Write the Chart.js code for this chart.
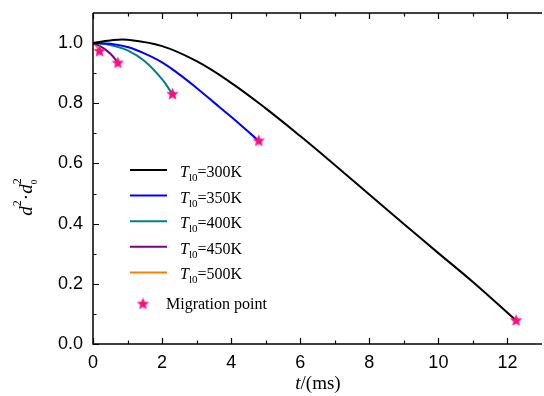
<!DOCTYPE html>
<html>
<head>
<meta charset="utf-8">
<script src="https://cdn.jsdelivr.net/npm/chart.js@4.4.1/dist/chart.umd.min.js"></script>
<style>
html,body{margin:0;padding:0;overflow:hidden;background:#fff}
#wrap{width:550px;height:396px}
</style>
</head>
<body>
<div id="wrap"><canvas id="chart" width="550" height="396"></canvas></div>
<script>
// ---- data ----
const t300 = [0, 0.5, 1, 2, 3, 4, 5, 6, 7, 8, 9, 10, 11, 12.25];
const d300 = [1.0, 1.009, 1.011, 0.99, 0.94, 0.868, 0.783, 0.691, 0.595, 0.497, 0.399, 0.302, 0.206, 0.078];
const t350 = [0, 0.5, 1, 1.5, 2, 2.5, 3, 3.5, 4, 4.5, 4.8];
const d350 = [1.0, 0.998, 0.987, 0.965, 0.936, 0.896, 0.851, 0.803, 0.755, 0.705, 0.675];
const t400 = [0, 0.5, 1, 1.5, 2, 2.3];
const d400 = [1.0, 0.994, 0.976, 0.94, 0.88, 0.83];
const t450 = [0, 0.2, 0.4, 0.6, 0.72];
const d450 = [1.0, 0.99, 0.975, 0.953, 0.934];
const t500 = [0, 0.1, 0.19];
const d500 = [1.0, 0.989, 0.973];

const tMig = [12.25, 4.8, 2.3, 0.72, 0.19];
const dMig = [0.078, 0.675, 0.83, 0.934, 0.973];

const temps = ['300', '350', '400', '450', '500'];
const lineColors = ['#000000', '#0000FF', '#008080', '#800080', '#FF8000'];
const starColor = '#FF0D80';

const xTicks = [0, 2, 4, 6, 8, 10, 12];
const xMinor = [1, 3, 5, 7, 9, 11];
const yTicks = [0, 0.2, 0.4, 0.6, 0.8, 1.0];
const yMinor = [0.1, 0.3, 0.5, 0.7, 0.9];

const SERIF = '"Liberation Serif", "Times New Roman", serif';
const SANS = '"Liberation Sans", Arial, sans-serif';

function makeStar(r, color) {
    const c = document.createElement('canvas');
    c.width = c.height = Math.ceil(r * 2 + 2);
    const g = c.getContext('2d');
    g.fillStyle = color;
    g.beginPath();
    for (let i = 0; i < 10; i++) {
        const a = -Math.PI / 2 + i * Math.PI / 5;
        const rr = i % 2 ? r * 0.45 : r;
        g.lineTo(c.width / 2 + rr * Math.cos(a), c.height / 2 + rr * Math.sin(a));
    }
    g.closePath();
    g.fill();
    return c;
}
const starImg = makeStar(6.5, starColor);

const zip = (xs, ys) => xs.map((x, i) => ({ x: x, y: ys[i] }));
const series = [[t300, d300], [t350, d350], [t400, d400], [t450, d450], [t500, d500]];

const datasets = [{
    label: 'Migration point',
    data: zip(tMig, dMig),
    showLine: false,
    pointStyle: starImg,
    pointRadius: 7,
    order: 0
}];
series.forEach((s, i) => {
    datasets.push({
        label: 'T_l0=' + temps[i] + 'K',
        data: zip(s[0], s[1]),
        borderColor: lineColors[i],
        borderWidth: 2,
        pointRadius: 0,
        showLine: true,
        tension: 0.4,
        order: 1
    });
});

/* frame, inward ticks, titles and legend */
const decor = {
    id: 'decor',
    afterDraw(chart) {
        const ctx = chart.ctx, a = chart.chartArea;
        const xs = chart.scales.x, ys = chart.scales.y;
        ctx.save();
        ctx.strokeStyle = '#000';
        ctx.lineWidth = 1.5;
        ctx.beginPath();
        ctx.moveTo(a.left, a.top); ctx.lineTo(a.right, a.top);
        ctx.moveTo(a.left, a.top); ctx.lineTo(a.left, a.bottom); ctx.lineTo(a.right, a.bottom);
        ctx.stroke();

        ctx.lineWidth = 1.2;
        ctx.beginPath();
        const tickX = (v, len) => {
            const p = Math.round(xs.getPixelForValue(v)) + 0.5;
            ctx.moveTo(p, a.bottom); ctx.lineTo(p, a.bottom - len);
            ctx.moveTo(p, a.top); ctx.lineTo(p, a.top + len);
        };
        const tickY = (v, len) => {
            const p = Math.round(ys.getPixelForValue(v)) + 0.5;
            ctx.moveTo(a.left, p); ctx.lineTo(a.left + len, p);
        };
        xTicks.forEach(v => tickX(v, 6));
        xMinor.forEach(v => tickX(v, 3.5));
        yTicks.forEach(v => tickY(v, 6));
        yMinor.forEach(v => tickY(v, 3.5));
        ctx.stroke();

        // x title: t/(ms)
        ctx.fillStyle = '#000';
        ctx.textBaseline = 'alphabetic';
        ctx.font = 'italic 19px ' + SERIF;
        const w1 = ctx.measureText('t').width;
        ctx.font = '19px ' + SERIF;
        const w2 = ctx.measureText('/(ms)').width;
        let x0 = 318 - (w1 + w2) / 2;
        ctx.font = 'italic 19px ' + SERIF;
        ctx.fillText('t', x0, 389);
        ctx.font = '19px ' + SERIF;
        ctx.fillText('/(ms)', x0 + w1, 389);

        // y title: d2·d0 2 (rotated)
        ctx.save();
        ctx.translate(32, 197);
        ctx.rotate(-Math.PI / 2);
        ctx.font = 'italic 19px ' + SERIF;
        const dw = ctx.measureText('d').width;
        ctx.font = '12px ' + SERIF;
        const sw = ctx.measureText('2').width;
        ctx.font = '19px ' + SERIF;
        const mw = ctx.measureText('·').width;
        const total = dw + sw + mw + dw + sw;
        let px = -total / 2;
        ctx.font = 'italic 19px ' + SERIF; ctx.fillText('d', px, 0); px += dw;
        ctx.font = '12px ' + SERIF; ctx.fillText('2', px, -11); px += sw;
        ctx.font = '19px ' + SERIF; ctx.fillText('·', px, 0); px += mw;
        ctx.font = 'italic 19px ' + SERIF; ctx.fillText('d', px, 0); px += dw;
        ctx.font = '12px ' + SERIF; ctx.fillText('2', px, -11);
        ctx.font = '9px ' + SERIF; ctx.fillText('0', px, 5);
        ctx.restore();

        // legend
        const lx = a.left + 37, ly = a.top + 157, step = 25.6;
        temps.forEach((tp, i) => {
            const y = ly + i * step;
            ctx.strokeStyle = lineColors[i];
            ctx.lineWidth = 2;
            ctx.beginPath(); ctx.moveTo(lx, y); ctx.lineTo(lx + 37, y); ctx.stroke();
            let tx = lx + 50;
            ctx.font = 'italic 16px ' + SERIF; ctx.fillText('T', tx, y + 7); tx += ctx.measureText('T').width;
            ctx.font = '11px ' + SERIF; ctx.fillText('l0', tx, y + 11); tx += ctx.measureText('l0').width;
            ctx.font = '16px ' + SERIF; ctx.fillText('=' + tp + 'K', tx, y + 7);
        });
        const sy = ly + 5 * step + 6;
        ctx.drawImage(starImg, lx + 13 - starImg.width / 2, sy - starImg.height / 2);
        ctx.font = '16px ' + SERIF;
        ctx.fillText('Migration point', lx + 36, sy + 5);
        ctx.restore();
    }
};

new Chart(document.getElementById('chart'), {
    type: 'scatter',
    data: { datasets: datasets },
    options: {
        responsive: false,
        animation: false,
        layout: { padding: { top: 13, right: 4, left: 0, bottom: 0 } },
        plugins: { legend: { display: false }, tooltip: { enabled: false } },
        scales: {
            x: {
                type: 'linear', min: 0, max: 13,
                afterBuildTicks: s => { s.ticks = xTicks.map(v => ({ value: v })); },
                afterFit: s => { s.height = 52; s.paddingLeft = 0; s.paddingRight = 0; },
                grid: { display: false, drawTicks: false },
                border: { display: false },
                ticks: { padding: 8, color: '#000', font: { family: SANS, size: 18 } }
            },
            y: {
                type: 'linear', min: 0, max: 1.1,
                afterBuildTicks: s => { s.ticks = yTicks.map(v => ({ value: v })); },
                afterFit: s => { s.width = 93; s.paddingTop = 0; s.paddingBottom = 0; },
                grid: { display: false, drawTicks: false },
                border: { display: false },
                ticks: { padding: 10, color: '#000', font: { family: SANS, size: 18 },
                         callback: v => v.toFixed(1) }
            }
        }
    },
    plugins: [decor]
});
</script>
</body>
</html>
